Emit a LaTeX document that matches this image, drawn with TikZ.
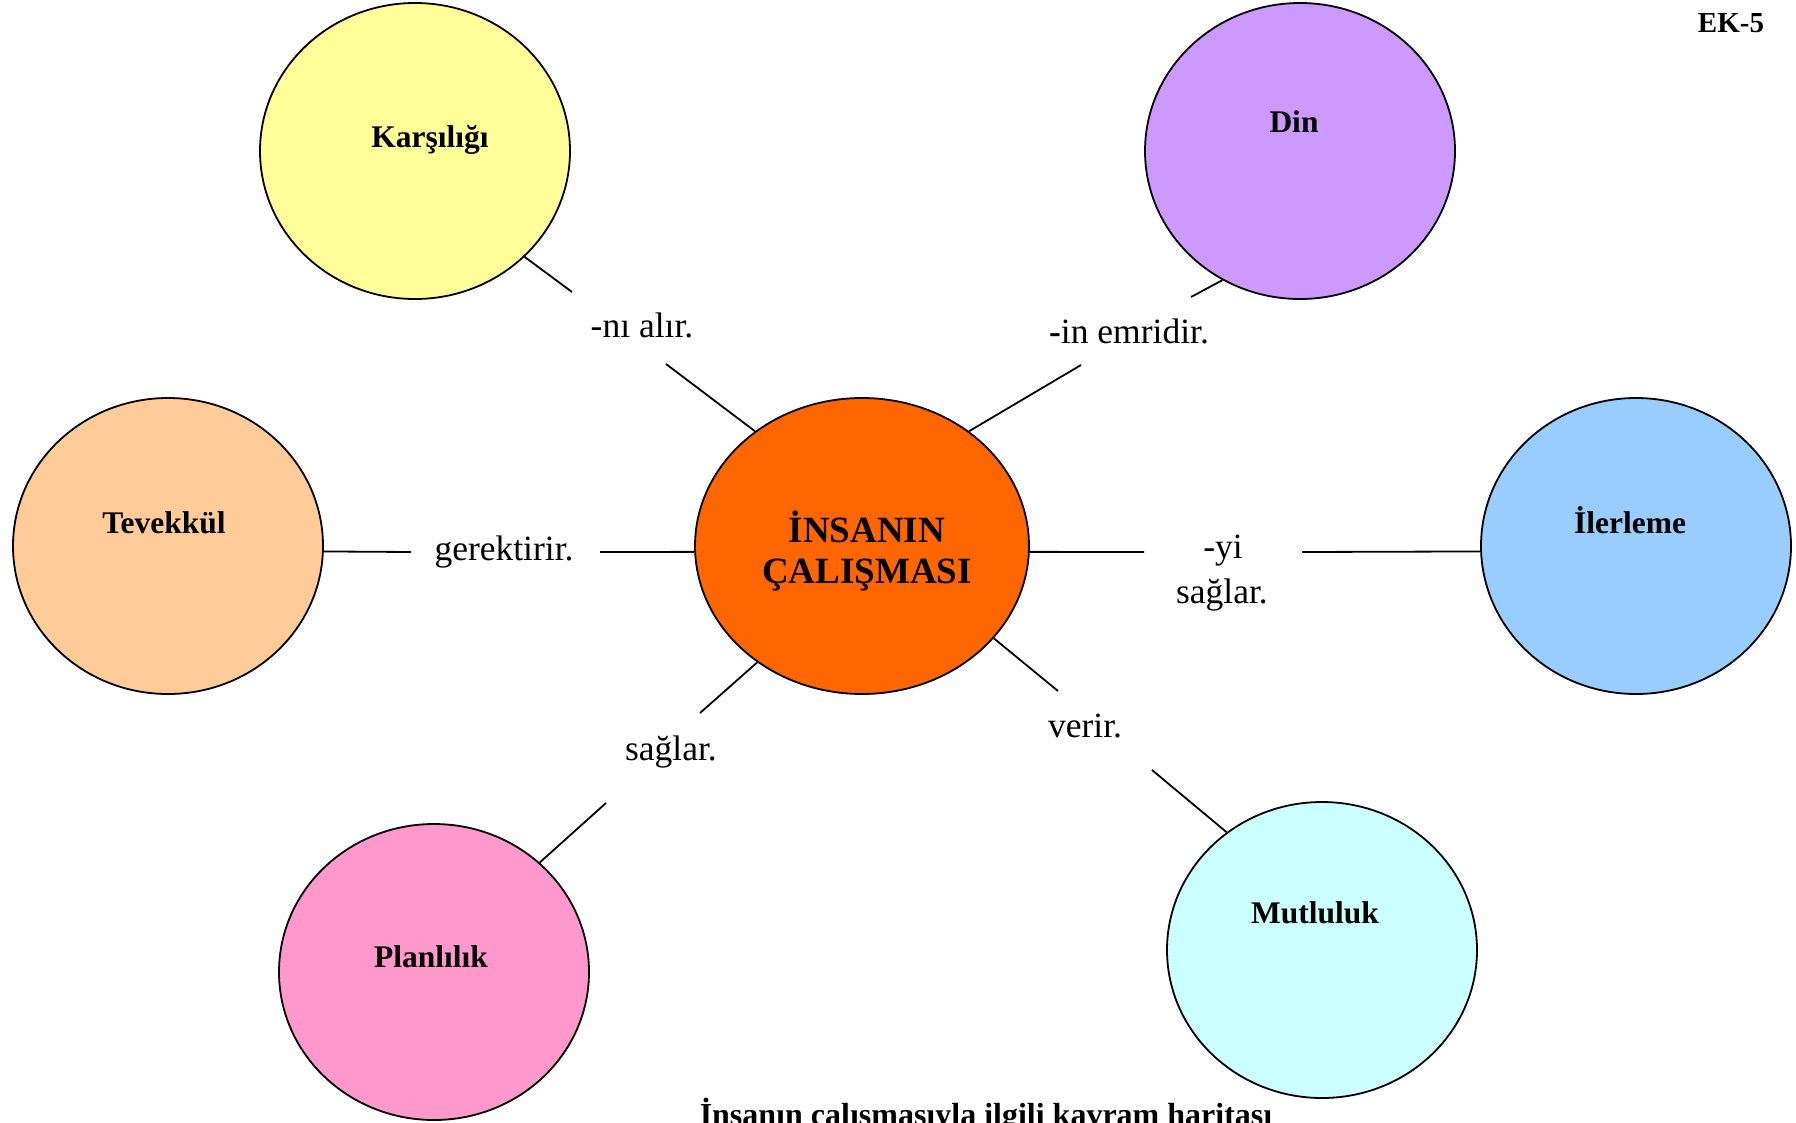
\documentclass[tikz,border=0pt]{standalone}
\usepackage{fontspec}
\setmainfont{Liberation Serif}
\usetikzlibrary{shapes.geometric}
\definecolor{sari}{HTML}{FFFF99}
\definecolor{mor}{HTML}{CC99FF}
\definecolor{ten}{HTML}{FFCC99}
\definecolor{turuncu}{HTML}{FF6600}
\definecolor{mavi}{HTML}{99CCFF}
\definecolor{pembe}{HTML}{FF99CC}
\definecolor{acikmavi}{HTML}{CCFFFF}
\tikzset{
  kabarcik/.style={ellipse, draw, line width=1.8pt, minimum width=310pt, minimum height=296pt, inner sep=0pt},
  kavram/.style={anchor=base, font=\fontsize{31.5}{36}\selectfont\bfseries},
  fiil/.style={anchor=base, font=\fontsize{35.5}{42}\selectfont},
  bag/.style={line width=1.8pt},
}
\begin{document}
\begin{tikzpicture}[x=1pt,y=-1pt]
\useasboundingbox (0,0) rectangle (1796,1122);
% kabarciklar
\node[kabarcik,fill=turuncu,minimum width=334pt] (ins) at (862,546) {};
\node[kabarcik,fill=sari] (kar) at (415,151) {};
\node[kabarcik,fill=mor] (din) at (1300,151) {};
\node[kabarcik,fill=ten] (tev) at (168,546) {};
\node[kabarcik,fill=mavi] (ile) at (1636,546) {};
\node[kabarcik,fill=pembe] (plan) at (434,972) {};
\node[kabarcik,fill=acikmavi] (mut) at (1322,950) {};
\node[kavram,font=\fontsize{37}{43}\selectfont\bfseries] (ins1) at (867,542) {İNSANIN};
\node[kavram,font=\fontsize{37}{43}\selectfont\bfseries] (ins2) at (867,583) {ÇALIŞMASI};
\node[kavram] (kartxt) at (430,147) {Karşılığı};
\node[kavram] (dintxt) at (1294,132) {Din};
\node[kavram] (tevtxt) at (164,533) {Tevekkül};
\node[kavram] (iletxt) at (1630,533) {İlerleme};
\node[kavram] (plantxt) at (431,967) {Planlılık};
\node[kavram] (muttxt) at (1315,923) {Mutluluk};
% fiiller
\node[fiil] (nialir) at (642,337) {-nı alır.};
\node[fiil] (emir) at (1129,343) {{\bfseries -}in emridir.};
\node[fiil] (gerek) at (504,560) {gerektirir.};
\node[fiil] (yi1) at (1223,558) {-yi};
\node[fiil] (yi2) at (1222,603) {sağlar.};
\node[fiil] (saglar) at (671,760) {sağlar.};
\node[fiil] (verir) at (1085,737) {verir.};
\coordinate (c1a) at (572,292);
\coordinate (c1b) at (666,364);
\coordinate (c2a) at (1191,297);
\coordinate (c2b) at (1081,365);
\coordinate (c3a) at (411,552);
\coordinate (c3b) at (600,552);
\coordinate (c4a) at (1144,552);
\coordinate (c4b) at (1302,552);
\coordinate (c5a) at (700,713);
\coordinate (c5b) at (606,803);
\coordinate (c6a) at (1058,691);
\coordinate (c6b) at (1152,770);
% baglar
\draw[bag] (kar.-44) -- (c1a);
\draw[bag] (c1b) -- (ins.133);
\draw[bag] (din.-121) -- (c2a);
\draw[bag] (c2b) -- (ins.47);
\draw[bag] (tev.-2) -- (c3a);
\draw[bag] (c3b) -- (ins.-178);
\draw[bag] (ins.-2) -- (c4a);
\draw[bag] (c4b) -- (ile.-178);
\draw[bag] (ins.-132) -- (c5a);
\draw[bag] (c5b) -- (plan.46);
\draw[bag] (ins.-35) -- (c6a);
\draw[bag] (c6b) -- (mut.129);
\node[anchor=base,font=\fontsize{29}{34}\selectfont\bfseries] (ek) at (1731,32) {EK-5};
\node[anchor=base,font=\fontsize{32}{38}\selectfont\bfseries] (baslik) at (986,1125) {İnsanın çalışmasıyla ilgili kavram haritası};
\end{tikzpicture}
\end{document}
